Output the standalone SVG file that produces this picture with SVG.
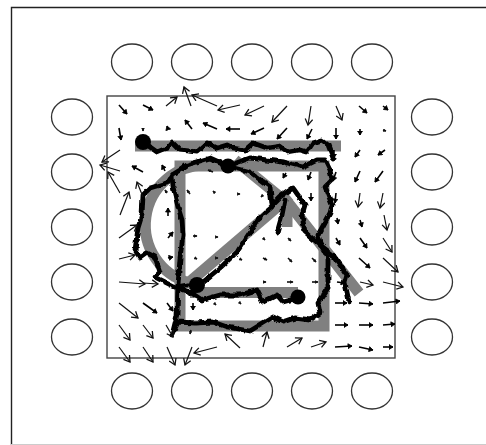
<svg xmlns="http://www.w3.org/2000/svg" width="486" height="445" viewBox="0 0 486 445">
<style>
.pin{fill:#fff;stroke:#333;stroke-width:1.3}
.g{fill:none;stroke:#808080;stroke-width:11}
.k{fill:none;stroke:#000;stroke-width:4.8;stroke-linejoin:round;stroke-linecap:round}
.v{fill:none;stroke:#111;stroke-width:1.2;marker-end:url(#h)}
.m{fill:none;stroke:#000;stroke-width:1.6;marker-end:url(#hm)}
.s{fill:none;stroke:#111;stroke-width:1.6;marker-end:url(#h2)}
</style>
<defs>
<marker id="h" markerUnits="userSpaceOnUse" markerWidth="9" markerHeight="9" refX="9" refY="6" orient="auto" viewBox="0 0 12 12"><path d="M1 1L9 6L1 11" fill="none" stroke="#111" stroke-width="1.7"/></marker>
<marker id="hm" markerUnits="userSpaceOnUse" markerWidth="6" markerHeight="6" refX="9" refY="6" orient="auto" viewBox="0 0 12 12"><path d="M1 1L9 6L1 11Z" fill="#000" stroke="#000" stroke-width="1.5"/></marker>
<marker id="h2" markerUnits="userSpaceOnUse" markerWidth="3.500" markerHeight="3.500" refX="5" refY="3" orient="auto" viewBox="0 0 6 6"><path d="M0 0L6 3L0 6Z" fill="#111"/></marker>
<filter id="rough" x="-5%" y="-5%" width="110%" height="110%"><feTurbulence type="fractalNoise" baseFrequency="0.14" numOctaves="2" seed="4"/><feDisplacementMap in="SourceGraphic" scale="4" xChannelSelector="R" yChannelSelector="G"/></filter>
</defs>
<rect width="486" height="445" fill="#fff"/>
<path d="M486 7.5H11.5V445" fill="none" stroke="#222" stroke-width="1.4"/>
<path d="M11 444.5H486" fill="none" stroke="#ccc" stroke-width="1"/>
<rect x="107" y="96" width="288" height="262" fill="none" stroke="#444" stroke-width="1.4"/>
<g id="pins-top">
<ellipse class="pin" cx="132" cy="62" rx="20.5" ry="18"/><ellipse class="pin" cx="192" cy="62" rx="20.5" ry="18"/><ellipse class="pin" cx="252" cy="62" rx="20.5" ry="18"/><ellipse class="pin" cx="312" cy="62" rx="20.5" ry="18"/><ellipse class="pin" cx="372" cy="62" rx="20.5" ry="18"/>
</g>
<g id="pins-bottom">
<ellipse class="pin" cx="132" cy="391" rx="20.5" ry="18"/><ellipse class="pin" cx="192" cy="391" rx="20.5" ry="18"/><ellipse class="pin" cx="252" cy="391" rx="20.5" ry="18"/><ellipse class="pin" cx="312" cy="391" rx="20.5" ry="18"/><ellipse class="pin" cx="372" cy="391" rx="20.5" ry="18"/>
</g>
<g id="pins-left">
<ellipse class="pin" cx="72" cy="117" rx="20.5" ry="18"/><ellipse class="pin" cx="72" cy="172" rx="20.5" ry="18"/><ellipse class="pin" cx="72" cy="227" rx="20.5" ry="18"/><ellipse class="pin" cx="72" cy="282" rx="20.5" ry="18"/><ellipse class="pin" cx="72" cy="337" rx="20.5" ry="18"/>
</g>
<g id="pins-right">
<ellipse class="pin" cx="432" cy="117" rx="20.5" ry="18"/><ellipse class="pin" cx="432" cy="172" rx="20.5" ry="18"/><ellipse class="pin" cx="432" cy="227" rx="20.5" ry="18"/><ellipse class="pin" cx="432" cy="282" rx="20.5" ry="18"/><ellipse class="pin" cx="432" cy="337" rx="20.5" ry="18"/>
</g>
<g id="shape">
<path class="g" d="M135 146H341"/>
<path class="g" d="M180 326V166H324V326Z"/>
<path class="g" d="M206 165A60 60 0 0 0 190 283"/>
<path class="g" d="M186 285L290 196"/>
<path class="g" d="M190 292.500H298"/>
<path class="g" stroke-width="13" d="M235 160L290 205L359 293"/>
<path class="g" d="M287 200V227"/>
</g>
<g id="trace">
<g filter="url(#rough)">
<path class="k" d="M143 142L157 152L167 148L172 142L180 150L197 152L207 143L217 148L227 145L233 148L245 150L253 143L267 148L280 146L288 152L300 150L307 152L313 143L322 140L328 145L333 158"/>
<path class="k" d="M228 166L210 158L187 165L180 170L172 175L167 183L150 188L143 195L142 215L138 228L135 250L140 258L147 253L155 257L160 272L155 277L175 287L187 285L197 285"/>
<path class="k" d="M172 175L173 187L178 207L182 220L183 235L180 258L178 285L177 315L172 335L178 322L195 323L213 322L227 327L250 331L263 323L273 317L283 322L295 318L310 320L320 313L318 303L328 288L328 258L320 243L318 235L330 213L332 205L325 187L332 180L330 170L325 160L317 160L303 167L283 162L267 160L250 158L228 166"/>
<path class="k" d="M228 166L250 172L270 187L272 205L280 197L293 188L305 205L302 215L305 232L320 245L333 255L347 275L345 282L349 302"/>
<path class="k" d="M197 285L203 282L220 268L237 252L250 232L257 220L272 207"/>
<path class="k" d="M285 200L282 215L277 233"/>
<path class="k" d="M178 288L190 292L202 300L220 295L240 295L257 290L263 302L277 295L283 302L298 298"/>
</g>
<circle cx="143" cy="142" r="8"/><circle cx="228" cy="166" r="7.500"/><circle cx="197" cy="285" r="8"/><circle cx="298" cy="297" r="7.500"/>
</g>
<g id="connectors">
<path class="m" d="M119 105L127 114"/><path class="m" d="M143 105L153 110"/><path class="v" d="M166 106L177 97"/><path class="v" d="M191 106L184 87"/><path class="v" d="M217 106L192 95"/><path class="v" d="M240 105L218 110"/><path class="v" d="M264 106L245 115"/><path class="v" d="M287 106L272 122"/><path class="v" d="M311 106L308 125"/><path class="v" d="M336 106L342 120"/><path class="m" d="M359 106L367 113"/><path class="m" d="M383 106L388 110"/>
<path class="m" d="M119 128L121 140"/><path class="s" d="M143 129L143 131"/><path class="m" d="M168 129L167 126"/><path class="m" d="M192 129L185 120"/><path class="m" d="M217 129L203 123"/><path class="m" d="M240 129L226 129"/><path class="m" d="M264 128L251 134"/><path class="m" d="M287 128L277 139"/><path class="m" d="M312 129L307 139"/><path class="m" d="M336 128L336 139"/><path class="m" d="M360 129L360 135"/><path class="s" d="M383 130L386 131"/>
<path class="v" d="M120 150L102 162"/><path class="m" d="M334 150L334 158"/><path class="m" d="M360 150L355 157"/><path class="m" d="M385 150L378 155"/>
<path class="v" d="M120 171L100 165"/><path class="v" d="M120 193L108 172"/><path class="m" d="M143 172L132 166"/><path class="m" d="M165 171L162 165"/><path class="s" d="M213 172L208 170"/><path class="m" d="M286 173L283 178"/><path class="m" d="M311 172L308 180"/><path class="m" d="M336 172L333 181"/><path class="m" d="M360 171L355 182"/><path class="m" d="M383 171L375 182"/>
<path class="v" d="M120 215L129 192"/><path class="v" d="M143 197L137 182"/><path class="s" d="M167 193L165 190"/><path class="s" d="M190 194L187 190"/><path class="s" d="M215 193L213 191"/><path class="s" d="M238 194L240 194"/><path class="s" d="M263 195L261 197"/><path class="m" d="M311 193L311 201"/><path class="m" d="M336 193L335 203"/><path class="v" d="M360 193L358 207"/><path class="v" d="M383 193L380 208"/>
<path class="m" d="M168 216L168 208"/><path class="m" d="M337 218L338 224"/><path class="m" d="M360 220L362 227"/><path class="v" d="M384 215L387 230"/>
<path class="v" d="M119 238L137 225"/><path class="m" d="M168 238L173 232"/><path class="s" d="M193 236L197 236"/><path class="s" d="M216 237L218 237"/><path class="s" d="M263 238L265 240"/><path class="s" d="M288 238L291 241"/><path class="m" d="M336 238L340 245"/><path class="m" d="M360 238L367 248"/><path class="v" d="M383 238L392 252"/>
<path class="v" d="M119 259L135 255"/><path class="m" d="M168 258L173 257"/><path class="s" d="M195 258L197 259"/><path class="s" d="M217 258L218 258"/><path class="s" d="M240 259L242 260"/><path class="s" d="M263 258L267 260"/><path class="s" d="M288 258L292 262"/><path class="s" d="M312 258L316 262"/><path class="m" d="M359 258L370 268"/><path class="v" d="M383 258L398 272"/>
<path class="v" d="M119 282L145 284"/><path class="v" d="M143 283L158 284"/><path class="s" d="M263 282L266 282"/><path class="s" d="M287 282L293 282"/><path class="s" d="M312 282L318 282"/><path class="m" d="M337 282L345 283"/><path class="v" d="M360 282L373 285"/><path class="v" d="M383 282L403 287"/>
<path class="v" d="M119 303L138 318"/><path class="m" d="M143 303L157 313"/><path class="m" d="M167 303L173 311"/><path class="m" d="M193 303L193 310"/><path class="s" d="M215 304L216 305"/><path class="s" d="M240 303L241 304"/><path class="m" d="M335 303L347 303"/><path class="m" d="M359 303L373 304"/><path class="m" d="M383 303L400 301"/>
<path class="v" d="M119 325L130 340"/><path class="v" d="M143 325L153 338"/><path class="v" d="M166 325L173 337"/><path class="s" d="M191 330L190 334"/><path class="m" d="M335 325L348 325"/><path class="m" d="M359 325L373 325"/><path class="m" d="M383 325L395 324"/>
<path class="v" d="M119 347L130 362"/><path class="v" d="M143 347L153 362"/><path class="v" d="M167 347L175 365"/><path class="v" d="M192 347L185 365"/><path class="v" d="M217 347L194 353"/><path class="v" d="M240 348L225 334"/><path class="v" d="M263 347L267 332"/><path class="v" d="M287 347L302 338"/><path class="v" d="M311 347L326 342"/><path class="m" d="M335 347L352 346"/><path class="m" d="M359 347L373 350"/><path class="m" d="M383 347L393 347"/>
</g>
</svg>
